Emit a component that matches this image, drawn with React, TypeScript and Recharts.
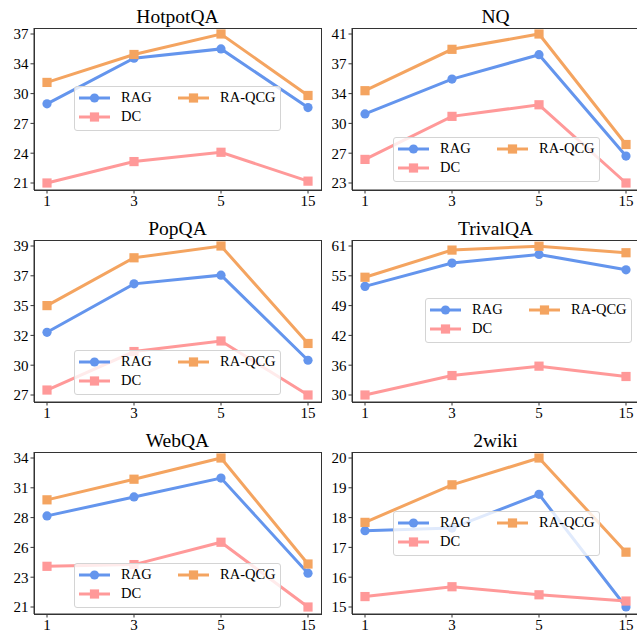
import { LineChart, Line, XAxis, YAxis, Legend } from 'recharts';

const kValues = ['1', '3', '5', '15'];
const datasetNames = ['HotpotQA', 'NQ', 'PopQA', 'TrivalQA', 'WebQA', '2wiki'];

const ragScores = [
  [29.5, 34.4, 35.4, 29.1],
  [31.35, 35.55, 38.5, 26.25],
  [32.05, 35.95, 36.65, 29.8],
  [52.6, 57.45, 59.25, 56.05],
  [28.95, 30.6, 32.25, 23.95],
  [17.56, 17.65, 18.78, 15.0],
];
const dcScores = [
  [21.0, 23.3, 24.3, 21.2],
  [25.85, 31.05, 32.45, 23.0],
  [27.4, 30.5, 31.35, 27.0],
  [30.0, 34.05, 36.0, 33.85],
  [24.55, 24.7, 26.65, 21.0],
  [15.35, 15.68, 15.41, 15.2],
];
const qcgScores = [
  [31.8, 34.8, 37.0, 30.4],
  [34.15, 39.15, 41.0, 27.65],
  [34.2, 38.05, 39.0, 31.15],
  [54.5, 60.15, 60.95, 59.6],
  [30.35, 32.15, 34.0, 24.75],
  [17.84, 19.1, 20.0, 16.84],
];
const tickLabels = [
  ['21', '24', '27', '30', '34', '37'],
  ['23', '27', '30', '34', '37', '41'],
  ['27', '30', '32', '35', '37', '39'],
  ['30', '36', '42', '49', '55', '61'],
  ['21', '23', '26', '28', '31', '34'],
  ['15', '16', '17', '18', '19', '20'],
];

// legend box position inside each chart (px)
const legendPos = [
  { left: 74, top: 86 },
  { left: 75, top: 137 },
  { left: 74, top: 138 },
  { left: 107, top: 86 },
  { left: 74, top: 139 },
  { left: 75, top: 87 },
];

const FONT = '"Liberation Serif", "Times New Roman", serif';
const FRAME = '#333';
const PLOT = { left: 34, top: 28, width: 287, height: 162 };

const series = [
  { key: 'rag', name: 'RAG', color: '#6495ED', marker: 'circle' },
  { key: 'dc', name: 'DC', color: '#FF9999', marker: 'square' },
  { key: 'qcg', name: 'RA-QCG', color: '#F4A460', marker: 'square' },
];

function Marker({ cx, cy, color, kind }: { cx: number; cy: number; color: string; kind: string }) {
  if (kind === 'circle') return <circle cx={cx} cy={cy} r={4.6} fill={color} />;
  return <rect x={cx - 4.6} y={cy - 4.6} width={9.2} height={9.2} fill={color} />;
}

function makeDot(color: string, kind: string) {
  return (props: any) => {
    if (props.cx == null || props.cy == null) return <g key={props.index} />;
    return <Marker key={props.index} cx={props.cx} cy={props.cy} color={color} kind={kind} />;
  };
}

function LegendBox() {
  return (
    <div
      style={{
        width: 207,
        height: 45,
        boxSizing: 'border-box',
        border: '1px solid #d4d4d4',
        borderRadius: 3,
        background: 'rgba(255,255,255,0.8)',
        padding: '1px 0 0 4px',
        display: 'grid',
        gridTemplateColumns: '99px auto',
        gridTemplateRows: '19px 19px',
        gridAutoFlow: 'column',
        fontFamily: FONT,
        fontSize: 14.5,
        color: '#000',
      }}
    >
      {series.map((s) => (
        <div key={s.key} style={{ display: 'flex', alignItems: 'center' }}>
          <svg width={31} height={12} style={{ marginRight: 11, display: 'block' }}>
            <line x1={0} y1={6} x2={31} y2={6} stroke={s.color} strokeWidth={3} />
            <Marker cx={15.5} cy={6} color={s.color} kind={s.marker} />
          </svg>
          <span>{s.name}</span>
        </div>
      ))}
    </div>
  );
}

function Panel({ idx }: { idx: number }) {
  const data = kValues.map((k, i) => ({
    k,
    rag: ragScores[idx][i],
    dc: dcScores[idx][i],
    qcg: qcgScores[idx][i],
  }));
  const labels = tickLabels[idx];
  const lo = Number(labels[0]);
  const hi = Number(labels[labels.length - 1]);
  const ticks = labels.map((_, i) => lo + ((hi - lo) * i) / (labels.length - 1));
  const tickStyle = { fill: '#000', fontSize: 15, fontFamily: FONT };

  return (
    <div style={{ position: 'relative', width: 322, height: 212 }}>
      <div
        style={{
          position: 'absolute',
          left: PLOT.left,
          top: 6.7,
          width: PLOT.width,
          textAlign: 'center',
          fontFamily: FONT,
          fontSize: 19.5,
          lineHeight: 1,
          color: '#000',
          whiteSpace: 'nowrap',
        }}
      >
        {datasetNames[idx]}
      </div>
      <LineChart width={322} height={212} data={data} margin={{ top: 28, right: 1, bottom: 0, left: 0 }}>
        <XAxis
          dataKey="k"
          height={22}
          padding={{ left: 13, right: 13 }}
          tick={tickStyle}
          tickSize={3.5}
          tickMargin={2}
          axisLine={{ stroke: FRAME, strokeWidth: 1 }}
          tickLine={{ stroke: FRAME }}
        />
        <YAxis
          type="number"
          domain={[lo, hi]}
          ticks={ticks}
          interval={0}
          width={34}
          padding={{ top: 6, bottom: 7 }}
          tickFormatter={(_v: number, i: number) => labels[i]}
          tick={tickStyle}
          tickSize={3.5}
          tickMargin={2}
          axisLine={{ stroke: FRAME, strokeWidth: 1 }}
          tickLine={{ stroke: FRAME }}
        />
        {series.map((s) => (
          <Line
            key={s.key}
            dataKey={s.key}
            name={s.name}
            stroke={s.color}
            strokeWidth={3}
            dot={makeDot(s.color, s.marker)}
            activeDot={false}
            isAnimationActive={false}
          />
        ))}
        <Legend
          verticalAlign="middle"
          align="center"
          layout="horizontal"
          content={() => <LegendBox />}
          wrapperStyle={{ left: legendPos[idx].left, top: legendPos[idx].top, width: 207, height: 45 }}
        />
      </LineChart>
      <div
        style={{
          position: 'absolute',
          left: PLOT.left - 0.5,
          top: PLOT.top - 0.5,
          width: PLOT.width + 1,
          height: PLOT.height + 1,
          boxSizing: 'border-box',
          border: `1px solid ${FRAME}`,
          pointerEvents: 'none',
        }}
      />
    </div>
  );
}

export default function App() {
  return (
    <div
      style={{
        position: 'fixed',
        left: 0,
        top: 0,
        width: 637,
        height: 640,
        overflow: 'hidden',
        background: '#fff',
      }}
    >
      {datasetNames.map((name, idx) => (
        <div
          key={name}
          style={{ position: 'absolute', left: (idx % 2) * 318, top: Math.floor(idx / 2) * 212 }}
        >
          <Panel idx={idx} />
        </div>
      ))}
    </div>
  );
}
